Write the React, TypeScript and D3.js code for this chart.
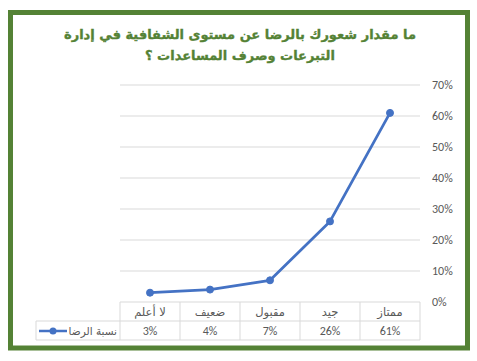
import React from "react";
import * as d3 from "d3";

const categories = ["لا أعلم", "ضعيف", "مقبول", "جيد", "ممتاز"];
const values = [3, 4, 7, 26, 61];
const seriesName = "نسبة الرضا";
const yTicks = [0, 10, 20, 30, 40, 50, 60, 70];
const titleLines = [
  "ما مقدار شعورك بالرضا عن مستوى الشفافية في إدارة",
  "التبرعات وصرف المساعدات ؟",
];

const W = 477;
const H = 361;
const plotLeft = 120;
const plotRight = 420;
const plotTop = 85;
const plotBottom = 302;
const rowH = 19;
const legendLeft = 36;

export default function App() {
  const x = d3
    .scaleBand<string>()
    .domain(categories)
    .range([plotLeft, plotRight])
    .padding(0);
  const y = d3.scaleLinear().domain([0, 70]).range([plotBottom, plotTop]);
  const cx = (c: string) => (x(c) as number) + x.bandwidth() / 2;
  const line = d3
    .line<number>()
    .x((_, i) => cx(categories[i]))
    .y((v) => y(v));
  const grid = "#d9d9d9";
  const txt = "#595959";
  const arFont = "'DejaVu Sans', Arial, sans-serif";
  const numFont = "Calibri, Carlito, 'Liberation Sans', Arial, sans-serif";
  const row1 = plotBottom;
  const row2 = plotBottom + rowH;
  const row3 = plotBottom + 2 * rowH;

  return (
    <svg
      width={W}
      height={H}
      style={{ position: "absolute", left: 0, top: 0, background: "#fff" }}
    >
      <rect x={0} y={0} width={W} height={H} fill="#fff" />
      <rect
        x={10.5}
        y={12.5}
        width={457}
        height={335.5}
        fill="#fff"
        stroke="#548235"
        strokeWidth={5}
      />
      {titleLines.map((t, i) => (
        <text
          key={i}
          x={240}
          y={39 + i * 21}
          textAnchor="middle"
          direction="rtl"
          fontFamily={arFont}
          fontWeight="bold"
          fontSize={13}
          fill="#548235"
          stroke="#548235"
          strokeWidth={0.35}
        >
          {t}
        </text>
      ))}
      {yTicks.map((t) => (
        <g key={t}>
          {t > 0 && (
            <line
              x1={plotLeft}
              x2={plotRight}
              y1={y(t)}
              y2={y(t)}
              stroke={grid}
              strokeWidth={1}
            />
          )}
          <text
            x={432}
            y={y(t) + 4}
            fontFamily={numFont}
            fontSize={12}
            fill={txt}
          >
            {t}%
          </text>
        </g>
      ))}
      {/* table */}
      <line x1={plotLeft} x2={plotRight} y1={row1} y2={row1} stroke={grid} />
      <line x1={legendLeft} x2={plotRight} y1={row2} y2={row2} stroke={grid} />
      <line x1={legendLeft} x2={plotRight} y1={row3} y2={row3} stroke={grid} />
      <line x1={legendLeft} x2={legendLeft} y1={row2} y2={row3} stroke={grid} />
      {categories.map((c) => (
        <line
          key={c}
          x1={x(c) as number}
          x2={x(c) as number}
          y1={row1}
          y2={row3}
          stroke={grid}
        />
      ))}
      <line x1={plotRight} x2={plotRight} y1={row1} y2={row3} stroke={grid} />
      {categories.map((c, i) => (
        <g key={c}>
          <text
            x={cx(c)}
            y={row1 + 14}
            textAnchor="middle"
            direction="rtl"
            fontFamily={arFont}
            fontSize={11.5}
            fill={txt}
          >
            {c}
          </text>
          <text
            x={cx(c)}
            y={row2 + 14}
            textAnchor="middle"
            fontFamily={numFont}
            fontSize={12}
            fill={txt}
          >
            {values[i]}%
          </text>
        </g>
      ))}
      <line
        x1={39}
        x2={67}
        y1={row2 + 10}
        y2={row2 + 10}
        stroke="#4472c4"
        strokeWidth={2.5}
      />
      <circle cx={53} cy={row2 + 10} r={3.5} fill="#4472c4" />
      <text
        x={117}
        y={row2 + 14}
        textAnchor="end"
        fontFamily={arFont}
        fontSize={10.5}
        fill={txt}
      >
        {seriesName}
      </text>
      <path
        d={line(values) || ""}
        fill="none"
        stroke="#4472c4"
        strokeWidth={2.75}
        strokeLinejoin="round"
        strokeLinecap="round"
      />
      {values.map((v, i) => (
        <circle
          key={i}
          cx={cx(categories[i])}
          cy={y(v)}
          r={3.5}
          fill="#4472c4"
          stroke="#4472c4"
        />
      ))}
    </svg>
  );
}
